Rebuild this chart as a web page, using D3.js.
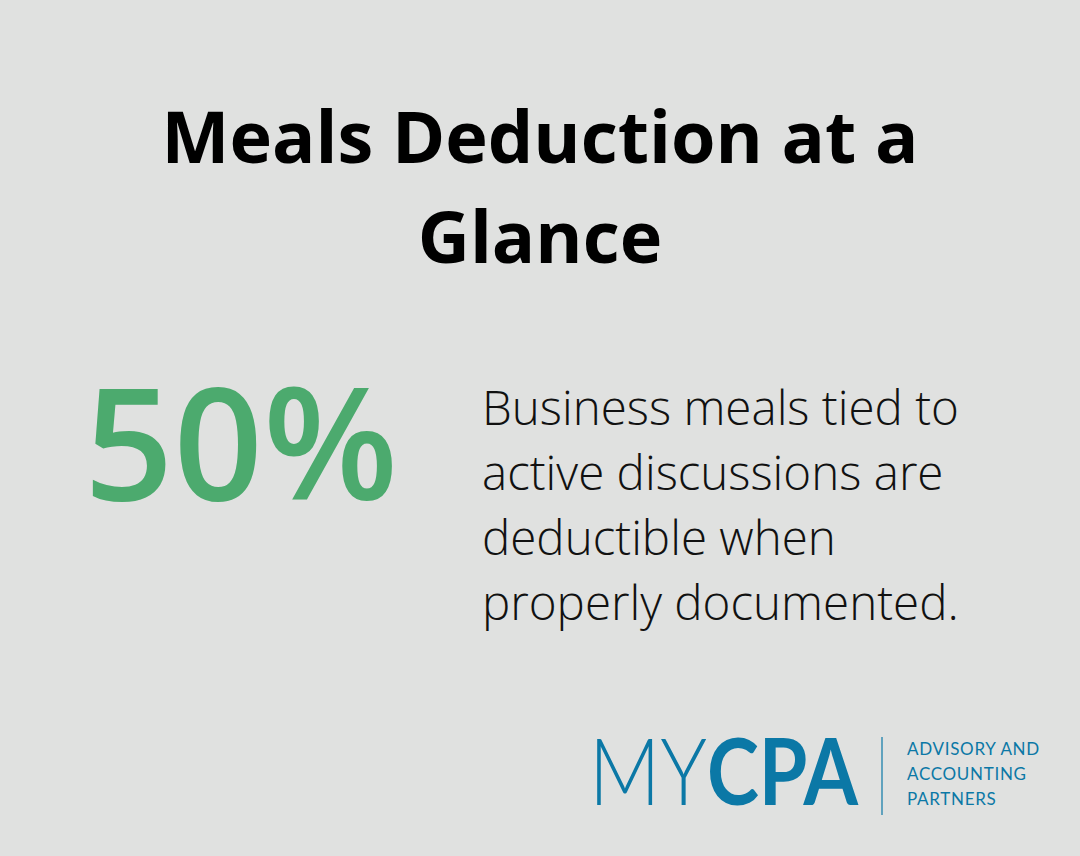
<!DOCTYPE html>
<html><head><meta charset="utf-8">
<script src="https://cdn.jsdelivr.net/npm/d3@7"></script>
<style>body{margin:0;background:#e0e1e0}</style>
</head><body>
<div id="chart"></div>
<script>
var titleLines = ['Meals Deduction at a', 'Glance'];
var statValue = ['50%'];
var descLines = ['Business meals tied to', 'active discussions are', 'deductible when', 'properly documented.'];
var logoParts = [{ text: 'MY', weight: 300 }, { text: 'CPA', weight: 700 }];
var taglineLines = ['ADVISORY AND', 'ACCOUNTING', 'PARTNERS'];

var svg = d3.select('#chart').append('svg')
  .attr('width', 1080)
  .attr('height', 856);

svg.append('rect').attr('width', 1080).attr('height', 856).attr('fill', '#e0e1e0');

// title
var ty = d3.scaleLinear().domain([0, 1]).range([163, 263]);
svg.selectAll('.title')
  .data(titleLines)
  .enter().append('text')
  .attr('class', 'title')
  .attr('x', 540)
  .attr('y', (d, i) => ty(i))
  .attr('text-anchor', 'middle')
  .style('font-family', 'Open Sans')
  .style('font-weight', 700)
  .style('font-size', '72px')
  .attr('fill', '#000')
  .text(d => d);

svg.selectAll('.stat')
  .data(statValue)
  .enter().append('text')
  .attr('class', 'stat')
  .attr('x', 84)
  .attr('y', 500)
  .style('font-family', 'Open Sans')
  .style('font-weight', 600)
  .style('font-size', '156px')
  .attr('fill', '#4caa6e')
  .attr('textLength', 314)
  .attr('lengthAdjust', 'spacingAndGlyphs')
  .text(d => d);

var dy = d3.scaleLinear().domain([0, 1]).range([425, 490]);
svg.selectAll('.desc')
  .data(descLines)
  .enter().append('text')
  .attr('class', 'desc')
  .attr('x', 482)
  .attr('y', (d, i) => dy(i))
  .style('font-family', 'Open Sans')
  .style('font-weight', 300)
  .style('font-size', '47.5px')
  .attr('fill', '#111')
  .text(d => d);

// logo
var blue = '#0b78a6';
var logo = svg.append('g');
logo.append('text').attr('x', 589).attr('y', 805)
  .style('font-family', 'Lato').style('font-size', '92px')
  .attr('fill', blue).attr('textLength', 269).attr('lengthAdjust', 'spacingAndGlyphs')
  .selectAll('tspan')
  .data(logoParts)
  .enter().append('tspan')
  .style('font-weight', d => d.weight)
  .text(d => d.text);
logo.append('line').attr('x1', 882).attr('x2', 882).attr('y1', 737).attr('y2', 815)
  .attr('stroke', blue).attr('stroke-width', 1.2);
var ly = d3.scaleLinear().domain([0, 1]).range([755, 780]);
logo.selectAll('.tag')
  .data(taglineLines)
  .enter().append('text')
  .attr('x', 907)
  .attr('y', (d, i) => ly(i))
  .style('font-family', 'Lato').style('font-weight', 400).style('font-size', '17px')
  .style('letter-spacing', '0.7px')
  .attr('fill', blue)
  .text(d => d);
</script>
</body></html>
